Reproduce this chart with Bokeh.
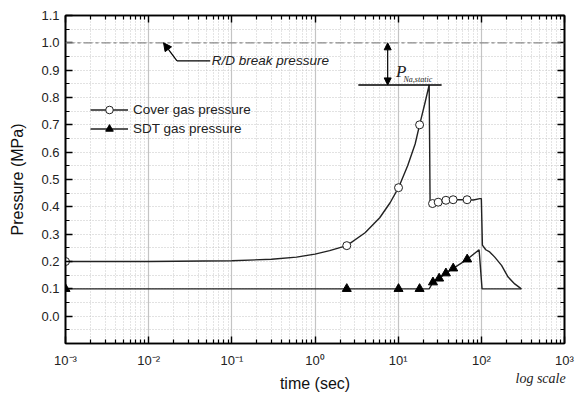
from bokeh.plotting import figure
from bokeh.models import (LogAxis, LinearAxis, FixedTicker, Span, Arrow, NormalHead,
                          Label, Legend, LegendItem, Range1d)
from bokeh.embed import file_html
from bokeh.resources import INLINE

# ---- data ----
cover_t = [0.001, 0.01, 0.1, 0.3, 0.6, 1.0, 1.5, 2.41, 4, 6, 8, 10.1, 13, 16, 18.1, 21, 23.6,
           24.2, 25.9, 30.3, 37.5, 45.8, 67.4, 80, 96, 100, 103, 113, 126, 145, 175, 210, 252, 303]
cover_p = [0.2, 0.2, 0.203, 0.208, 0.216, 0.227, 0.24, 0.258, 0.305, 0.36, 0.415, 0.47, 0.55, 0.63,
           0.70, 0.78, 0.846, 0.41, 0.412, 0.417, 0.424, 0.426, 0.426, 0.425, 0.43, 0.43, 0.26,
           0.243, 0.235, 0.216, 0.186, 0.143, 0.118, 0.10]
cover_mt = [0.001, 2.41, 10.1, 18.1, 25.9, 30.3, 37.5, 45.8, 67.4]
cover_mp = [0.2, 0.258, 0.47, 0.70, 0.412, 0.417, 0.424, 0.426, 0.426]

sdt_t = [0.001, 23.6, 26.2, 31.1, 37.5, 45.9, 67.6, 94, 102, 303]
sdt_p = [0.1, 0.1, 0.124, 0.138, 0.157, 0.175, 0.208, 0.243, 0.1, 0.1]
sdt_mt = [0.001, 2.41, 10.1, 18.1, 26.2, 31.1, 37.5, 45.9, 67.6]
sdt_mp = [0.1, 0.1, 0.1, 0.1, 0.124, 0.138, 0.157, 0.175, 0.208]

x_ticks = [1e-3, 1e-2, 1e-1, 1e0, 1e1, 1e2, 1e3]
x_labels = ["10⁻³", "10⁻²", "10⁻¹", "10⁰", "10¹", "10²", "10³"]
y_ticks = [0.0, 0.1, 0.2, 0.3, 0.4, 0.5, 0.6, 0.7, 0.8, 0.9, 1.0, 1.1]
y_labels = ["0.0", "0.1", "0.2", "0.3", "0.4", "0.5", "0.6", "0.7", "0.8", "0.9", "1.0", "1.1"]
break_pressure = 1.0
na_static_top = 0.846

FONT = "Liberation Sans"
SERIF = "Liberation Serif"

x_minor = [m * d for d in x_ticks[:-1] for m in range(2, 10)]
y_minor = [round(-0.05 + 0.1 * i, 2) for i in range(12)] + [-0.1]

p = figure(width=579, height=394, x_axis_type="log",
           x_range=Range1d(1e-3, 1e3), y_range=Range1d(-0.1, 1.1),
           output_backend="svg", toolbar_location=None,
           min_border_left=65, min_border_right=15, min_border_top=15, min_border_bottom=51,
           background_fill_color="white", border_fill_color="white")
p.outline_line_color = "black"
p.outline_line_width = 1.6

xt = FixedTicker(ticks=x_ticks, minor_ticks=x_minor)
yt = FixedTicker(ticks=y_ticks, minor_ticks=y_minor)

def style_axis(ax, labels=True):
    ax.axis_line_color = "black"
    ax.axis_line_width = 1.6
    ax.major_tick_in = 7
    ax.major_tick_out = 0
    ax.minor_tick_in = 4
    ax.minor_tick_out = 0
    ax.major_tick_line_color = "black"
    ax.major_tick_line_width = 1.4
    ax.minor_tick_line_color = "black"
    ax.minor_tick_line_width = 1.2
    ax.major_label_text_font = FONT
    ax.major_label_text_font_size = "13px"
    ax.major_label_text_color = "#222"
    if not labels:
        ax.major_label_text_alpha = 0
        ax.major_label_text_font_size = "0px"
        ax.major_label_standoff = 0

xa = p.xaxis[0]
xa.ticker = xt
xa.major_label_overrides = {t: l for t, l in zip(x_ticks, x_labels)}
style_axis(xa)
xa.major_label_standoff = 9
xa.axis_label = "time (sec)"
xa.axis_label_text_font = FONT
xa.axis_label_text_font_size = "16px"
xa.axis_label_text_font_style = "normal"
xa.axis_label_text_color = "#111"
xa.axis_label_standoff = 4

ya = p.yaxis[0]
ya.ticker = yt
ya.major_label_overrides = {t: l for t, l in zip(y_ticks, y_labels)}
style_axis(ya)
ya.major_label_standoff = 6
ya.axis_label = "Pressure (MPa)"
ya.axis_label_text_font = FONT
ya.axis_label_text_font_size = "16px"
ya.axis_label_text_font_style = "normal"
ya.axis_label_text_color = "#111"
ya.axis_label_standoff = 12

top = LogAxis(ticker=xt)
style_axis(top, labels=False)
p.add_layout(top, "above")
right = LinearAxis(ticker=yt)
style_axis(right, labels=False)
p.add_layout(right, "right")

# grids
p.xgrid.ticker = xt
p.xgrid.grid_line_color = "#c4c4c4"
p.xgrid.grid_line_width = 1.2
p.xgrid.minor_grid_line_color = "#c8c8c8"
p.xgrid.minor_grid_line_dash = "1 2"
p.ygrid.ticker = yt
p.ygrid.grid_line_color = "#c4c4c4"
p.ygrid.grid_line_dash = "1 2"
p.ygrid.minor_grid_line_color = "#c4c4c4"
p.ygrid.minor_grid_line_dash = "1 2"

# break pressure line
p.add_layout(Span(location=break_pressure, dimension="width", line_color="#8a8a8a",
                  line_width=1.2, line_dash="9 3 3 3"))

# series
lc = "#222222"
cl = p.line(cover_t, cover_p, line_color=lc, line_width=1.4)
cm = p.scatter(cover_mt, cover_mp, marker="circle", size=8, fill_color="white",
               line_color=lc, line_width=1.0)
sl = p.line(sdt_t, sdt_p, line_color=lc, line_width=1.4)
sm = p.scatter(sdt_mt, sdt_mp, marker="triangle", size=9, fill_color="black",
               line_color="black")

legend = Legend(items=[LegendItem(label="Cover gas pressure", renderers=[cl, cm]),
                       LegendItem(label="SDT gas pressure", renderers=[sl, sm])],
                location=(25, 205), padding=0, margin=0, spacing=0,
                glyph_width=38, glyph_height=19, label_height=19, label_standoff=5,
                label_text_font=FONT, label_text_font_size="13.5px",
                label_text_color="#222",
                background_fill_alpha=0, border_line_alpha=0)
p.add_layout(legend, "center")

# R/D break pressure annotation
p.add_layout(Arrow(end=NormalHead(size=8, fill_color="black", line_color="black"),
                   x_start=0.0219, y_start=0.934, x_end=0.0151, y_end=1.0,
                   line_color="black", line_width=1.2))
p.segment(x0=[0.0219], y0=[0.934], x1=[0.055], y1=[0.934], line_color="black", line_width=1.2)
p.add_layout(Label(x=0.0575, y=0.934, text="R/D break pressure", text_font=FONT,
                   text_font_size="13.5px", text_font_style="italic", text_color="#222",
                   text_baseline="middle", text_align="left"))

# P_Na,static annotation
p.segment(x0=[3.32], y0=[na_static_top], x1=[33.3], y1=[na_static_top],
          line_color="black", line_width=1.4)
p.add_layout(Arrow(start=NormalHead(size=7, fill_color="black", line_color="black"),
                   end=NormalHead(size=7, fill_color="black", line_color="black"),
                   x_start=7.48, y_start=na_static_top, x_end=7.48, y_end=break_pressure,
                   line_color="black", line_width=1.2))
p.add_layout(Label(x=9.4, y=0.895, text="P", text_font=SERIF, text_font_size="17px",
                   text_font_style="italic", text_color="#222", text_baseline="alphabetic"))
p.add_layout(Label(x=11.6, y=0.866, text="Na,static", text_font=SERIF, text_font_size="8px",
                   text_font_style="italic", text_color="#222", text_baseline="alphabetic"))

# log scale note: lives in the top side panel (side panels are not clipped to the frame)
p.add_layout(Label(x=450, y=-363, x_units="screen", y_units="screen", text="log scale",
                   text_font=SERIF, text_font_size="14px",
                   text_font_style="italic", text_color="#222", text_baseline="middle"),
             "above")

open("out.html", "w").write(file_html(p, INLINE))
